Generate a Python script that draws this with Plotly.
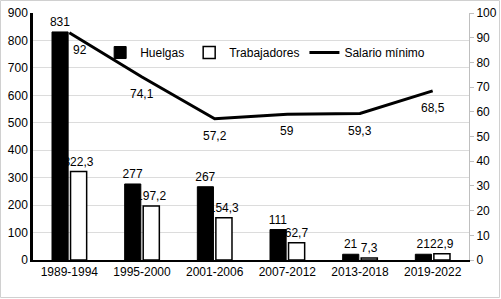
import plotly.graph_objects as go

categories = ["1989-1994", "1995-2000", "2001-2006", "2007-2012", "2013-2018", "2019-2022"]
huelgas = [831, 277, 267, 111, 21, 21]
trabajadores = [322.3, 197.2, 154.3, 62.7, 7.3, 22.9]
salario = [92, 74.1, 57.2, 59, 59.3, 68.5]

def fmt(v):
    s = ("%g" % v)
    return s.replace(".", ",")

FONT = "Liberation Sans, Arial, sans-serif"

fig = go.Figure()
fig.add_trace(go.Bar(
    x=categories, y=huelgas, name="Huelgas",
    marker=dict(color="black", line=dict(color="black", width=1)),
    text=[fmt(v) for v in huelgas], textposition="outside", constraintext="none",
    textfont=dict(size=12, color="black", family=FONT), cliponaxis=False,
))
fig.add_trace(go.Bar(
    x=categories, y=trabajadores, name="Trabajadores",
    marker=dict(color="white", line=dict(color="black", width=1.5)),
    text=[fmt(v) for v in trabajadores], textposition="outside", constraintext="none",
    textfont=dict(size=12, color="black", family=FONT), cliponaxis=False,
))
fig.add_trace(go.Scatter(
    x=categories, y=salario, name="Salario mínimo", yaxis="y2",
    mode="lines", line=dict(color="black", width=3),
))

annotations = []
for i, (c, v) in enumerate(zip(categories, salario)):
    annotations.append(dict(
        x=c, y=v, xref="x", yref="y2", text=fmt(v), showarrow=False,
        xshift=11 if i == 0 else 0, yshift=-17,
        font=dict(size=12, color="black", family=FONT),
    ))

L, R, T, B = 33, 32, 13, 39
W, H = 501, 299
pw, ph = W - L - R, H - T - B

fig.update_layout(
    width=W, height=H,
    margin=dict(l=L, r=R, t=T, b=B, autoexpand=False),
    paper_bgcolor="white", plot_bgcolor="white",
    font=dict(family=FONT, size=12, color="black"),
    separators=",.",
    barmode="group", bargap=0.49, bargroupgap=0.13,
    showlegend=True,
    legend=dict(orientation="h", x=0.154, y=0.84, xanchor="left", yanchor="middle",
                bgcolor="rgba(0,0,0,0)", font=dict(size=12, family=FONT),
                itemwidth=30, tracegroupgap=0),
    xaxis=dict(showline=True, linecolor="black", linewidth=2, ticks="",
               tickfont=dict(size=12), showgrid=False, automargin=False),
    yaxis=dict(range=[0, 900], dtick=100, showgrid=True, gridcolor="#dcdcdc", gridwidth=1,
               showline=True, linecolor="black", linewidth=2.5, ticks="",
               tickfont=dict(size=12), zeroline=False, automargin=False),
    yaxis2=dict(range=[0, 100], dtick=10, overlaying="y", side="right", showgrid=False,
                showline=True, linecolor="#bfbfbf", linewidth=1, ticks="outside",
                ticklen=4, tickcolor="#bfbfbf", tickfont=dict(size=12), zeroline=False,
                automargin=False),
    annotations=annotations,
    shapes=[dict(type="rect", xref="paper", yref="paper",
                 x0=-(L - 0.5) / pw, x1=1 + (R - 1.5) / pw,
                 y0=-(B - 1.5) / ph, y1=1 + (T - 0.5) / ph,
                 line=dict(color="#d0d0d0", width=1), layer="below")],
)

fig.write_html("out.html", config={"displayModeBar": False},
               post_script="document.body.style.margin='0';")
